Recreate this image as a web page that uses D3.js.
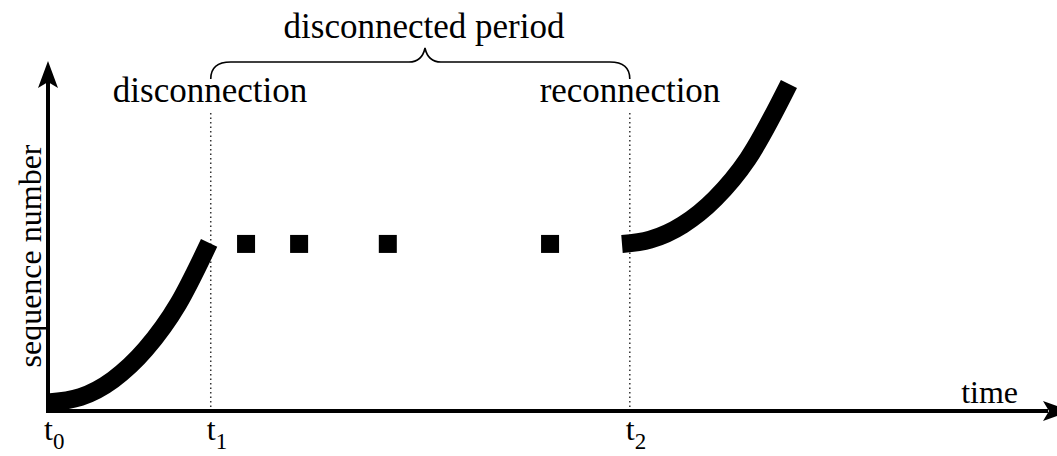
<!DOCTYPE html>
<html>
  <meta charset="utf-8">
  <head>
    <title>Sequence number over time</title>
  </head>
  <style>
    body { margin: 0; background: #fff; }
    text { font-family: "Liberation Serif", "Times New Roman", serif; fill: #000; }
    .axis { stroke: #000; stroke-width: 4; fill: none; }
    .seq { fill: none; stroke: #000; stroke-width: 18; stroke-linecap: butt; }
    .marker { stroke: #333; stroke-width: 1.5; stroke-dasharray: 1.5,3; }
    .brace { fill: none; stroke: #000; stroke-width: 1.6; }
  </style>
  <script src="https://d3js.org/d3.v7.min.js"></script>

  <body>
    <svg width="1057" height="456"></svg>

    <script>
      // time instants marked on the x axis
      var tickNames = ["0", "1", "2"];
      var tickTimes = [0, 10, 35.75];

      // sequence number before disconnection
      var beforeTime = [0, 2, 4, 6, 8, 9.9];
      var beforeSeq  = [0.52, 0.85, 1.9, 3.75, 6.5, 10.2];

      // lost packets during disconnected period
      var gapTime = [12.17, 15.43, 20.88, 30.85];
      var gapSeq  = [10.14, 10.14, 10.14, 10.14];

      // sequence number after reconnection
      var afterTime = [35.27, 37, 39, 41, 43, 45.53];
      var afterSeq  = [10.14, 10.4, 11.3, 12.9, 15.3, 19.85];

      var svg = d3.select("svg"),
          width = +svg.attr("width"),
          height = +svg.attr("height");

      var x = d3.scaleLinear().domain([0, 62]).range([48, 1057]);
      var y = d3.scaleLinear().domain([0, 21]).range([411, 65]);

      var line = d3.line()
          .x(function(d) { return x(d[0]); })
          .y(function(d) { return y(d[1]); })
          .curve(d3.curveMonotoneX);

      // dotted markers at t1, t2
      svg.selectAll(".marker")
        .data(tickTimes.slice(1))
        .enter().append("line")
          .attr("class", "marker")
          .attr("x1", function(d) { return x(d); })
          .attr("x2", function(d) { return x(d); })
          .attr("y1", 113)
          .attr("y2", y(0));

      // axes with arrowheads
      svg.append("line").attr("class", "axis")
          .attr("x1", x(0)).attr("y1", y(0) + 2)
          .attr("x2", x(0)).attr("y2", 80);
      svg.append("line").attr("class", "axis")
          .attr("x1", x(0) - 2).attr("y1", y(0))
          .attr("x2", 1048).attr("y2", y(0));

      svg.append("path")
          .attr("d", "M" + x(0) + ",61 L" + (x(0) + 10) + ",88 L" + x(0) + ",82 L" + (x(0) - 10) + ",88 Z")
          .attr("fill", "#000");
      svg.append("path")
          .attr("d", "M1071," + y(0) + " L1043," + (y(0) - 10) + " L1049," + y(0) + " L1043," + (y(0) + 10) + " Z")
          .attr("fill", "#000");

      // curves
      svg.append("path")
          .attr("class", "seq")
          .attr("d", line(d3.zip(beforeTime, beforeSeq)));
      svg.append("path")
          .attr("class", "seq")
          .attr("d", line(d3.zip(afterTime, afterSeq)));

      svg.selectAll(".gap")
        .data(d3.zip(gapTime, gapSeq))
        .enter().append("rect")
          .attr("class", "gap")
          .attr("x", function(d) { return x(d[0]) - 9; })
          .attr("y", function(d) { return y(d[1]) - 9; })
          .attr("width", 18)
          .attr("height", 18)
          .attr("fill", "#000");

      // brace over the disconnected period
      var bx1 = x(tickTimes[1]), bx2 = x(tickTimes[2]), bm = 425;
      svg.append("path")
          .attr("class", "brace")
          .attr("d", "M" + bx1 + ",79 Q" + bx1 + ",62 " + (bx1 + 20) + ",62 L" + (bm - 16) + ",62 Q" + (bm - 3) + ",62 " + bm + ",48" +
                     " Q" + (bm + 3) + ",62 " + (bm + 16) + ",62 L" + (bx2 - 20) + ",62 Q" + bx2 + ",62 " + bx2 + ",79");

      svg.append("text").attr("x", 424).attr("y", 38)
          .attr("text-anchor", "middle").style("font-size", "35px")
          .text("disconnected period");
      svg.append("text").attr("x", 210).attr("y", 102)
          .attr("text-anchor", "middle").style("font-size", "35px")
          .text("disconnection");
      svg.append("text").attr("x", 630).attr("y", 102)
          .attr("text-anchor", "middle").style("font-size", "35px")
          .text("reconnection");

      svg.append("text").attr("x", 1018).attr("y", 403)
          .attr("text-anchor", "end").style("font-size", "32px")
          .text("time");

      svg.append("text")
          .attr("transform", "translate(41,256) rotate(-90)")
          .attr("text-anchor", "middle").style("font-size", "32px")
          .text("sequence number");

      // t0, t1, t2 labels
      var tl = svg.selectAll(".tlabel")
        .data(tickTimes)
        .enter().append("text")
          .attr("class", "tlabel")
          .attr("x", function(d) { return x(d) - 4; })
          .attr("y", 440)
          .style("font-size", "32px");
      tl.append("tspan").text("t");
      tl.append("tspan")
          .attr("dy", 9)
          .style("font-size", "23px")
          .text(function(d, i) { return tickNames[i]; });
    </script>
  </body>
</html>
